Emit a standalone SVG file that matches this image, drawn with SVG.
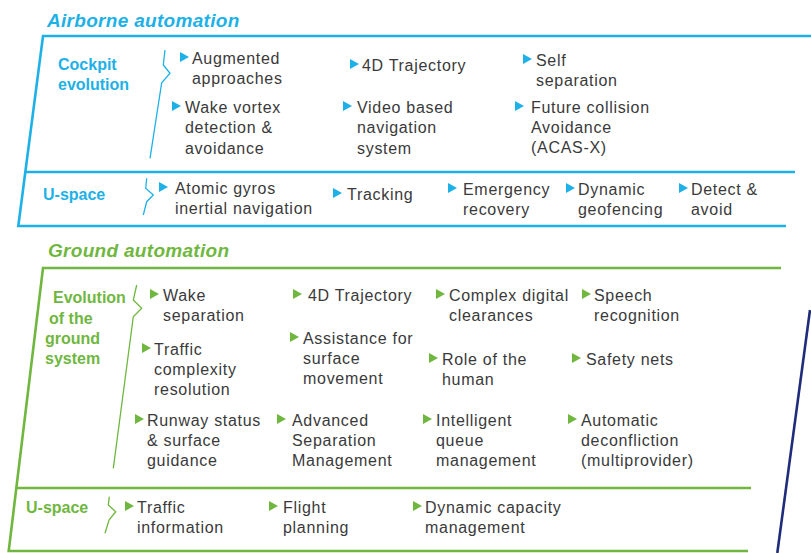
<svg xmlns="http://www.w3.org/2000/svg" width="811" height="553" viewBox="0 0 811 553">
<defs>
<style>
.t{font-family:"Liberation Sans",Arial,sans-serif;font-size:16px;fill:#3a3a3a;letter-spacing:0.7px}
.lb{font-family:"Liberation Sans",Arial,sans-serif;font-size:16px;font-weight:bold;fill:#1db1e7}
.lg{font-family:"Liberation Sans",Arial,sans-serif;font-size:16px;font-weight:bold;fill:#6fb73f}
.ttl{font-family:"Liberation Sans",Arial,sans-serif;font-size:19px;font-weight:bold;font-style:italic;letter-spacing:0.3px}
.fb{fill:none;stroke:#1db1e7;stroke-width:2.6}
.fg{fill:none;stroke:#6fb73f;stroke-width:2.6}
.bb{fill:none;stroke:#1db1e7;stroke-width:1.3}
.bg{fill:none;stroke:#6fb73f;stroke-width:1.3}
</style>
<path id="ab" d="M0,0 L9,5 L0,10 Z" fill="#1db1e7"/>
<path id="ag" d="M0,0 L9,5 L0,10 Z" fill="#6fb73f"/>
</defs>
<rect width="811" height="553" fill="#ffffff"/>

<g id="frames">
<text class="ttl" x="47" y="26.5" fill="#1db1e7">Airborne automation</text>
<path class="fb" d="M811,36 L43,36 L18.3,226 L786,226"/>
<path class="fb" d="M25.3,172 L795,172"/>
<text class="ttl" x="48" y="256.7" fill="#6fb73f">Ground automation</text>
<path class="fg" d="M781,268 L43,268 L8.7,551 L748,551"/>
<path class="fg" d="M17,488 L751,488"/>
<path d="M810,310 L777.3,553" fill="none" stroke="#1f2b7b" stroke-width="2.6"/>
</g>

<g id="connectors">
<path class="bb" d="M165,50 L163.3,65 L170,73.3 L161.7,82.7 L150,158.3"/>
<path class="bb" d="M146.7,178.3 L145.7,188.3 L153.3,195 L146.7,201.7 L143.3,215"/>
<path class="bg" d="M136.7,285 L133.3,300 L141.7,308.3 L133.3,316.7 L113.3,468.3"/>
<path class="bg" d="M109.3,496.7 L108.3,505 L115.7,511.7 L109,520 L105,533.3"/>
</g>

<g id="cockpit-label"><text class="lb" x="58" y="70">Cockpit</text><text class="lb" x="58" y="90">evolution</text></g>
<g id="air-uspace-label"><text class="lb" x="43" y="200">U-space</text></g>

<g id="augmented"><use href="#ab" x="180" y="52"/><text class="t" x="192" y="64">Augmented</text><text class="t" x="192" y="84">approaches</text></g>
<g id="air-4d"><use href="#ab" x="350" y="59"/><text class="t" x="362" y="71">4D Trajectory</text></g>
<g id="self-sep"><use href="#ab" x="523" y="54"/><text class="t" x="536" y="66">Self</text><text class="t" x="536" y="86">separation</text></g>
<g id="wake-vortex"><use href="#ab" x="172" y="101"/><text class="t" x="185" y="113">Wake vortex</text><text class="t" x="185" y="133">detection &amp;</text><text class="t" x="185" y="154">avoidance</text></g>
<g id="video"><use href="#ab" x="343" y="101"/><text class="t" x="357" y="113">Video based</text><text class="t" x="357" y="133">navigation</text><text class="t" x="357" y="154">system</text></g>
<g id="acas"><use href="#ab" x="515" y="101"/><text class="t" x="531" y="113">Future collision</text><text class="t" x="531" y="133">Avoidance</text><text class="t" x="531" y="153">(ACAS-X)</text></g>

<g id="atomic"><use href="#ab" x="159" y="182"/><text class="t" x="175" y="194">Atomic gyros</text><text class="t" x="175" y="214">inertial navigation</text></g>
<g id="tracking"><use href="#ab" x="333" y="188"/><text class="t" x="347" y="200">Tracking</text></g>
<g id="emergency"><use href="#ab" x="448" y="183"/><text class="t" x="463" y="195">Emergency</text><text class="t" x="463" y="215">recovery</text></g>
<g id="geofencing"><use href="#ab" x="566" y="183"/><text class="t" x="578" y="195">Dynamic</text><text class="t" x="578" y="215">geofencing</text></g>
<g id="detect"><use href="#ab" x="679" y="183"/><text class="t" x="691" y="195">Detect &amp;</text><text class="t" x="691" y="215">avoid</text></g>

<g id="ground-label"><text class="lg" x="53" y="303">Evolution</text><text class="lg" x="49" y="324">of the</text><text class="lg" x="45" y="344">ground</text><text class="lg" x="45" y="364">system</text></g>
<g id="gr-uspace-label"><text class="lg" x="26" y="513">U-space</text></g>

<g id="wake-sep"><use href="#ag" x="150" y="289"/><text class="t" x="163" y="301">Wake</text><text class="t" x="163" y="321">separation</text></g>
<g id="gr-4d"><use href="#ag" x="293" y="289"/><text class="t" x="308" y="301">4D Trajectory</text></g>
<g id="clearances"><use href="#ag" x="436" y="289"/><text class="t" x="449" y="301">Complex digital</text><text class="t" x="449" y="321">clearances</text></g>
<g id="speech"><use href="#ag" x="582" y="289"/><text class="t" x="594" y="301">Speech</text><text class="t" x="594" y="321">recognition</text></g>

<g id="traffic-cx"><use href="#ag" x="142" y="343"/><text class="t" x="154" y="355">Traffic</text><text class="t" x="154" y="375">complexity</text><text class="t" x="154" y="395">resolution</text></g>
<g id="assistance"><use href="#ag" x="290" y="332"/><text class="t" x="303" y="344">Assistance for</text><text class="t" x="303" y="364">surface</text><text class="t" x="303" y="384">movement</text></g>
<g id="role"><use href="#ag" x="429" y="353"/><text class="t" x="442" y="365">Role of the</text><text class="t" x="442" y="385">human</text></g>
<g id="safety"><use href="#ag" x="572" y="353"/><text class="t" x="586" y="365">Safety nets</text></g>

<g id="runway"><use href="#ag" x="135" y="414"/><text class="t" x="147" y="426">Runway status</text><text class="t" x="147" y="446">&amp; surface</text><text class="t" x="147" y="466">guidance</text></g>
<g id="advanced"><use href="#ag" x="277" y="414"/><text class="t" x="292" y="426">Advanced</text><text class="t" x="292" y="446">Separation</text><text class="t" x="292" y="466">Management</text></g>
<g id="queue"><use href="#ag" x="423" y="414"/><text class="t" x="436" y="426">Intelligent</text><text class="t" x="436" y="446">queue</text><text class="t" x="436" y="466">management</text></g>
<g id="deconfliction"><use href="#ag" x="568" y="414"/><text class="t" x="581" y="426">Automatic</text><text class="t" x="581" y="446">deconfliction</text><text class="t" x="581" y="466">(multiprovider)</text></g>

<g id="traffic-info"><use href="#ag" x="125" y="501"/><text class="t" x="137" y="513">Traffic</text><text class="t" x="137" y="533">information</text></g>
<g id="flight"><use href="#ag" x="269" y="501"/><text class="t" x="283" y="513">Flight</text><text class="t" x="283" y="533">planning</text></g>
<g id="capacity"><use href="#ag" x="413" y="501"/><text class="t" x="425" y="513">Dynamic capacity</text><text class="t" x="425" y="533">management</text></g>
</svg>
